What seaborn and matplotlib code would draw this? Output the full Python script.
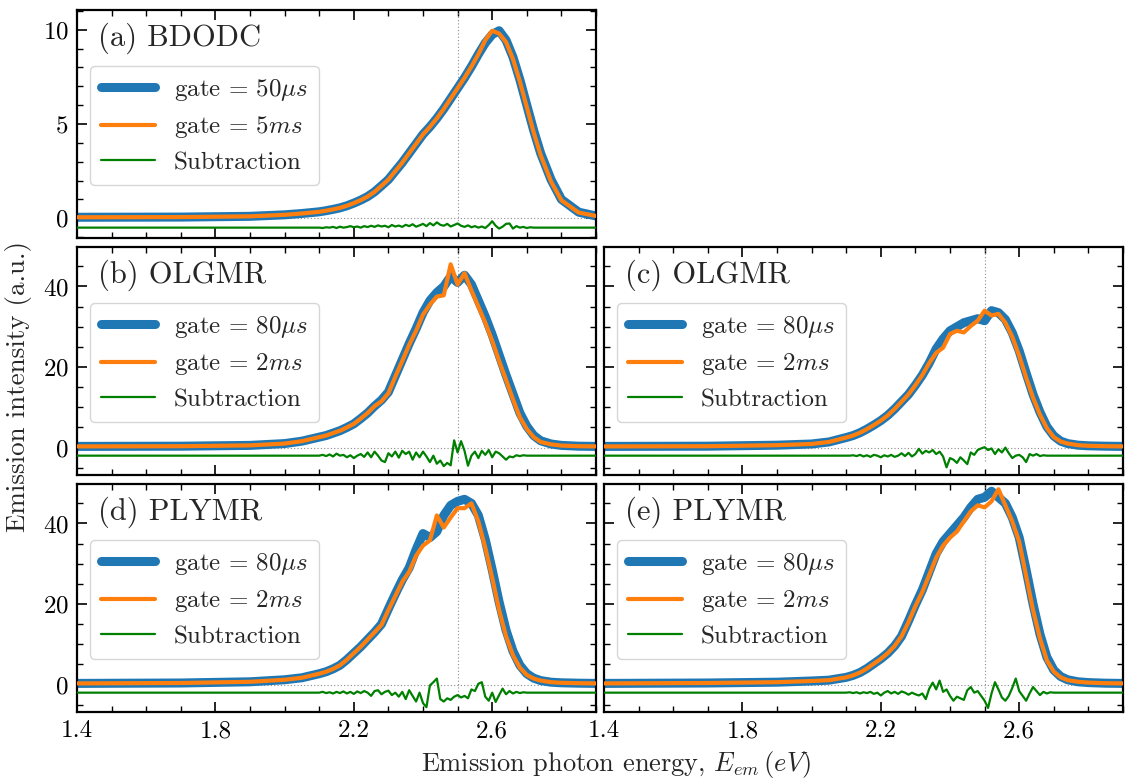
import numpy as np
import matplotlib
matplotlib.use("Agg")
import matplotlib.pyplot as plt
from matplotlib.ticker import MultipleLocator
import seaborn as sns

# ---------------- data ----------------
energy_main = [1.40, 1.70, 1.90, 2.00, 2.05,
               2.10, 2.12, 2.14, 2.16, 2.18, 2.20, 2.22, 2.24, 2.26, 2.28,
               2.30, 2.32, 2.34, 2.36, 2.38, 2.40, 2.42, 2.44, 2.46, 2.48,
               2.50, 2.52, 2.54, 2.56, 2.58, 2.60, 2.62, 2.64, 2.66, 2.68,
               2.70, 2.72, 2.74, 2.77, 2.80, 2.85, 2.90]

energy_diff = [1.40, 2.00,
               2.10, 2.11, 2.12, 2.13, 2.14, 2.15, 2.16, 2.17, 2.18, 2.19,
               2.20, 2.21, 2.22, 2.23, 2.24, 2.25, 2.26, 2.27, 2.28, 2.29,
               2.30, 2.31, 2.32, 2.33, 2.34, 2.35, 2.36, 2.37, 2.38, 2.39,
               2.40, 2.41, 2.42, 2.43, 2.44, 2.45, 2.46, 2.47, 2.48, 2.49,
               2.50, 2.51, 2.52, 2.53, 2.54, 2.55, 2.56, 2.57, 2.58, 2.59,
               2.60, 2.61, 2.62, 2.63, 2.64, 2.65, 2.66, 2.67, 2.68, 2.69,
               2.70, 2.71, 2.72, 2.80, 2.90]

# (a) BDODC
a_short = [0.05, 0.06, 0.10, 0.18, 0.25,
           0.34, 0.40, 0.47, 0.55, 0.66, 0.80, 0.96, 1.15, 1.40, 1.72,
           2.05, 2.50, 2.95, 3.45, 3.95, 4.45, 4.85, 5.30, 5.80, 6.35,
           6.90, 7.45, 8.05, 8.70, 9.30, 9.75, 9.95, 9.45, 8.55, 7.35,
           6.00, 4.65, 3.45, 2.05, 1.00, 0.32, 0.12]
a_long = [0.05, 0.06, 0.10, 0.18, 0.25,
          0.34, 0.40, 0.47, 0.55, 0.66, 0.80, 0.96, 1.15, 1.40, 1.72,
          2.05, 2.50, 2.95, 3.45, 3.95, 4.45, 4.85, 5.30, 5.80, 6.35,
          6.90, 7.45, 8.05, 8.70, 9.45, 9.95, 9.80, 9.35, 8.45, 7.25,
          5.90, 4.55, 3.35, 1.95, 0.95, 0.30, 0.12]
a_diff = [-0.50, -0.50,
          -0.50, -0.52, -0.48, -0.50, -0.46, -0.52, -0.45, -0.50, -0.47, -0.42,
          -0.48, -0.44, -0.50, -0.42, -0.47, -0.40, -0.46, -0.38, -0.44, -0.40,
          -0.48, -0.36, -0.44, -0.39, -0.46, -0.35, -0.42, -0.32, -0.45, -0.38,
          -0.30, -0.42, -0.26, -0.38, -0.22, -0.35, -0.40, -0.30, -0.44, -0.36,
          -0.28, -0.40, -0.46, -0.38, -0.48, -0.42, -0.50, -0.44, -0.52, -0.36,
          -0.16, -0.40, -0.55, -0.45, -0.30, -0.28, -0.55, -0.42, -0.50, -0.46,
          -0.52, -0.48, -0.50, -0.50, -0.50]

# (b) OLGMR
b_short = [0.30, 0.35, 0.55, 1.00, 1.60,
           2.60, 3.00, 3.60, 4.20, 5.00, 5.90, 7.20, 8.60, 10.3, 11.8,
           13.8, 17.8, 21.8, 25.8, 29.5, 33.5, 36.5, 38.5, 40.0, 42.5,
           41.0, 42.8, 40.5, 36.5, 32.5, 28.0, 23.0, 18.0, 13.3, 8.6,
           5.3, 3.0, 1.7, 0.9, 0.55, 0.35, 0.30]
b_long = [0.30, 0.35, 0.55, 1.00, 1.60,
          2.60, 3.00, 3.60, 4.20, 5.00, 5.90, 7.20, 8.60, 10.3, 11.5,
          13.5, 17.6, 21.5, 25.5, 29.0, 33.0, 35.5, 37.5, 37.8, 45.5,
          40.5, 43.3, 39.0, 35.0, 31.0, 26.5, 21.5, 16.8, 12.0, 7.5,
          4.6, 2.6, 1.4, 0.8, 0.50, 0.35, 0.30]
b_diff = [-2.0, -2.0,
          -2.0, -1.8, -2.1, -1.7, -2.2, -1.5, -2.0, -1.8, -2.4, -1.9,
          -2.6, -2.0, -1.6, -2.3, -1.2, -2.4, -1.0, -2.0, -3.2, -3.6,
          -1.4, -2.2, -1.0, -2.5, -0.8, -1.6, -1.0, -3.0, -1.2, -2.4,
          -1.0, -2.2, -3.6, -2.0, -4.0, -3.2, -4.6, -3.8, -4.4, 1.8,
          -1.2, 1.6, -0.8, -4.5, -2.0, -1.0, -2.6, -0.8, -1.8, -0.6,
          -2.4, -1.0, -1.4, -2.2, -3.0, -2.2, -2.4, -1.9, -2.1, -1.9,
          -2.0, -2.0, -2.0, -2.0, -2.0]

# (c) OLGMR
c_short = [0.30, 0.35, 0.60, 0.90, 1.40,
           2.50, 3.00, 3.70, 4.60, 5.60, 6.70, 8.00, 9.60, 11.4, 13.2,
           15.5, 18.0, 21.0, 24.5, 27.0, 29.0, 30.0, 31.0, 31.5, 32.0,
           31.5, 34.0, 33.5, 31.8, 28.5, 24.0, 18.5, 13.2, 8.8, 5.2,
           2.9, 1.6, 1.0, 0.60, 0.45, 0.35, 0.30]
c_long = [0.30, 0.35, 0.60, 0.90, 1.40,
          2.50, 3.00, 3.70, 4.60, 5.60, 6.70, 8.00, 9.60, 11.4, 13.2,
          15.5, 18.0, 21.0, 23.5, 24.8, 28.2, 29.0, 28.6, 30.2, 31.5,
          34.0, 32.8, 33.2, 31.0, 27.5, 22.8, 17.4, 12.4, 8.2, 4.8,
          2.6, 1.5, 1.0, 0.60, 0.45, 0.35, 0.30]
c_diff = [-2.0, -2.0,
          -2.0, -2.0, -1.9, -2.1, -1.8, -2.2, -1.9, -2.3, -1.8, -2.0,
          -2.4, -1.9, -2.2, -1.8, -2.3, -2.0, -1.4, -2.1, -1.3, -2.2,
          -1.6, -0.3, -1.5, -0.8, -1.2, -0.6, -1.6, -1.0, -2.2, -4.9,
          -2.6, -3.0, -3.8, -2.4, -3.2, -4.1, -1.2, -1.8, -0.6, -0.2,
          0.1, -0.6, -0.2, -1.6, -0.4, -1.2, 0.0, -1.4, -2.6, -2.0,
          -1.8, -2.4, -3.6, -1.6, -2.0, -1.6, -2.1, -1.9, -2.0, -2.0,
          -2.0, -2.0, -2.0, -2.0, -2.0]

# (d) PLYMR
d_short = [0.30, 0.40, 0.70, 1.20, 1.70,
           2.70, 3.20, 3.90, 4.80, 6.20, 7.80, 9.40, 11.2, 13.0, 15.0,
           18.8, 22.5, 26.0, 29.0, 33.5, 37.5, 36.5, 38.0, 42.0, 44.5,
           45.5, 46.0, 45.0, 42.0, 36.0, 28.5, 20.5, 13.5, 8.3, 4.8,
           2.7, 1.6, 1.0, 0.60, 0.45, 0.35, 0.30]
d_long = [0.30, 0.40, 0.70, 1.20, 1.70,
          2.70, 3.20, 3.90, 4.80, 6.20, 7.80, 9.40, 11.2, 13.0, 14.8,
          18.5, 22.0, 25.5, 28.0, 32.0, 34.5, 35.8, 42.0, 39.0, 41.5,
          43.8, 43.8, 45.0, 40.5, 34.0, 26.5, 18.5, 12.0, 7.3, 4.2,
          2.4, 1.5, 1.0, 0.60, 0.45, 0.35, 0.30]
d_diff = [-2.0, -2.0,
          -2.0, -1.8, -2.1, -1.9, -2.2, -1.8, -2.1, -1.7, -2.2, -1.8,
          -2.3, -1.7, -2.1, -1.6, -2.0, -2.8, -1.6, -1.4, -2.4, -1.8,
          -1.5, -2.6, -2.0, -3.0, -1.8, -3.6, -1.4, -2.8, -4.2, -2.0,
          -4.6, -5.6, -0.2, 0.6, 1.5, -3.6, -4.2, -3.4, -3.8, -3.0,
          -2.6, -3.2, -2.8, -3.4, -1.2, -1.6, 0.2, 0.6, -3.0, -4.0,
          -2.0, -4.3, -2.6, -1.0, -2.4, -1.6, -2.2, -1.8, -2.1, -1.9,
          -2.0, -2.0, -2.0, -2.0, -2.0]

# (e) PLYMR
e_short = [0.30, 0.40, 0.60, 0.90, 1.10,
           1.80, 2.30, 3.00, 4.00, 5.20, 6.40, 7.80, 9.60, 12.0, 15.8,
           19.8, 23.5, 28.0, 32.5, 35.5, 37.5, 39.5, 41.5, 44.0, 46.0,
           46.5, 48.0, 46.5, 45.0, 41.5, 36.5, 28.5, 20.0, 12.5, 6.8,
           3.6, 2.0, 1.2, 0.70, 0.50, 0.35, 0.30]
e_long = [0.30, 0.40, 0.60, 0.90, 1.10,
          1.80, 2.30, 3.00, 4.00, 5.20, 6.40, 7.80, 9.60, 12.0, 15.5,
          19.5, 23.0, 27.2, 31.5, 34.5, 36.5, 38.0, 40.5, 43.0, 44.5,
          44.0, 45.5, 48.5, 44.5, 40.5, 35.5, 27.0, 18.5, 11.5, 6.0,
          3.2, 1.8, 1.1, 0.70, 0.50, 0.35, 0.30]
e_diff = [-2.0, -2.0,
          -2.0, -1.9, -2.1, -1.9, -2.2, -1.9, -2.1, -1.8, -2.3, -2.0,
          -2.7, -2.0, -1.6, -2.2, -1.8, -2.3, -1.7, -2.0, -2.5, -2.0,
          -2.4, -2.7, -2.2, -3.6, -1.0, 0.5, -1.2, 1.0, -1.8, -1.2,
          -2.8, -4.0, -3.0, -3.4, -3.8, -1.4, -0.6, -2.0, -1.6, -2.8,
          -4.0, -5.8, -2.2, 0.6, -1.2, -3.2, -4.0, -2.8, -0.8, 1.5,
          -1.6, -2.8, -4.0, -2.2, -0.6, -1.6, -2.6, -1.8, -2.2, -1.9,
          -2.0, -2.0, -2.0, -2.0, -2.0]

panel_titles = ["(a) BDODC", "(b) OLGMR", "(c) OLGMR", "(d) PLYMR", "(e) PLYMR"]
short_gate = [r"gate = $50\mu s$", r"gate = $80\mu s$", r"gate = $80\mu s$",
              r"gate = $80\mu s$", r"gate = $80\mu s$"]
long_gate = [r"gate = $5ms$", r"gate = $2ms$", r"gate = $2ms$",
             r"gate = $2ms$", r"gate = $2ms$"]
diff_label = "Subtraction"
short_series = [a_short, b_short, c_short, d_short, e_short]
long_series = [a_long, b_long, c_long, d_long, e_long]
diff_series = [a_diff, b_diff, c_diff, d_diff, e_diff]

x_ticks = [1.4, 1.8, 2.2, 2.6]
x_tick_labels = ["1.4", "1.8", "2.2", "2.6"]
marker_energy = 2.5

# ---------------- style ----------------
sns.set_theme(style="ticks")
plt.rcParams.update({
    "font.family": "serif",
    "font.serif": ["cmr10", "DejaVu Serif"],
    "mathtext.fontset": "cm",
    "axes.formatter.use_mathtext": True,
    "axes.unicode_minus": False,
    "axes.linewidth": 1.6,
    "axes.edgecolor": "black",
    "xtick.color": "black",
    "ytick.color": "black",
})

fig = plt.figure(figsize=(11.26, 7.80), dpi=100)
gs = fig.add_gridspec(3, 2, left=77 / 1126, right=1123 / 1126,
                      top=1 - 10 / 780, bottom=1 - 712 / 780,
                      wspace=8 / 519, hspace=9 / 228)
ax_a = fig.add_subplot(gs[0, 0])
ax_b = fig.add_subplot(gs[1, 0], sharex=ax_a)
ax_c = fig.add_subplot(gs[1, 1], sharex=ax_a, sharey=ax_b)
ax_d = fig.add_subplot(gs[2, 0], sharex=ax_a, sharey=ax_b)
ax_e = fig.add_subplot(gs[2, 1], sharex=ax_a, sharey=ax_b)
axes = [ax_a, ax_b, ax_c, ax_d, ax_e]

BLUE = "#1f77b4"
ORANGE = "#ff7f0e"
GREEN = "#008000"

for i, ax in enumerate(axes):
    ax.axhline(0, color="0.55", lw=0.8, ls=(0, (1, 2)), zorder=1)
    ax.axvline(marker_energy, ymin=0.06, color="0.55", lw=0.8,
               ls=(0, (1, 2)), zorder=1)
    sns.lineplot(x=energy_main, y=short_series[i], ax=ax, color=BLUE,
                 lw=6.5, label=short_gate[i], sort=False, estimator=None,
                 zorder=2)
    sns.lineplot(x=energy_main, y=long_series[i], ax=ax, color=ORANGE,
                 lw=3.0, label=long_gate[i], sort=False, estimator=None,
                 zorder=3)
    sns.lineplot(x=energy_diff, y=diff_series[i], ax=ax, color=GREEN,
                 lw=1.6, label=diff_label, sort=False, estimator=None,
                 zorder=4)
    ax.text(0.04, 0.875, panel_titles[i], transform=ax.transAxes,
            fontsize=22, va="center", ha="left")
    ax.legend(loc="upper left", bbox_to_anchor=(0.025, 0.755), fontsize=18,
              frameon=True, fancybox=True, framealpha=0.8, edgecolor="0.8",
              handlelength=2.15, handletextpad=0.75, labelspacing=0.45,
              borderpad=0.45, borderaxespad=0.0)
    ax.set_xlabel("")
    ax.set_ylabel("")
    ax.tick_params(which="both", direction="in", top=True, right=True,
                   labelsize=18)
    ax.tick_params(which="major", length=7, width=1.2, pad=6)
    ax.tick_params(which="minor", length=4, width=1.0)
    for s in ax.spines.values():
        s.set_linewidth(1.6)

ax_a.set_xlim(1.4, 2.9)
ax_a.xaxis.set_minor_locator(MultipleLocator(0.1))
ax_a.set_xticks(x_ticks)
ax_a.set_ylim(-1.05, 11.05)
ax_a.yaxis.set_major_locator(MultipleLocator(5))
ax_a.yaxis.set_minor_locator(MultipleLocator(1))
ax_b.set_ylim(-6.8, 49.8)
ax_b.yaxis.set_major_locator(MultipleLocator(20))
ax_b.yaxis.set_minor_locator(MultipleLocator(5))

for ax in [ax_a, ax_b, ax_c]:
    ax.tick_params(labelbottom=False)
for ax in [ax_c, ax_e]:
    ax.tick_params(labelleft=False)
for ax in [ax_d, ax_e]:
    ax.set_xticklabels(x_tick_labels)

fig.supylabel("Emission intensity (a.u.)", fontsize=19.5, x=0.004, ha="left",
              y=0.505)
fig.supxlabel(r"Emission photon energy, $E_{em}\,(eV)$", fontsize=19,
              x=616 / 1126, y=0.0, va="bottom")

fig.savefig("out.png", dpi=100)
